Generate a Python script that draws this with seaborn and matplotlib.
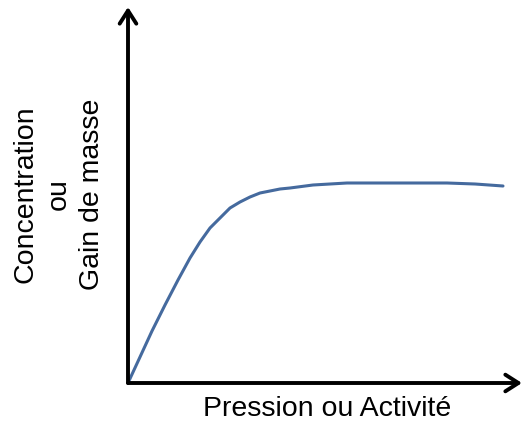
import matplotlib
matplotlib.use("Agg")
import matplotlib.pyplot as plt
import pandas as pd
import seaborn as sns

# curve (arbitrary units)
pression = [0, 12, 24, 37, 50, 62, 72, 82, 92, 102, 112, 122, 132, 142, 152, 162,
            185, 219, 269, 319, 347, 375]
masse = [0, 26, 52, 78, 103, 125, 141, 155, 165, 175, 181, 186, 190, 192, 194, 195,
         198, 200, 200, 200, 199, 197]
xlabel = "Pression ou Activité"
ylabel = "Concentration\nou\nGain de masse"

df = pd.DataFrame({"x": pression, "y": masse})

sns.set_style("white")
plt.rcParams["font.family"] = ["Liberation Sans", "DejaVu Sans"]

fig = plt.figure(figsize=(5.23, 4.23), dpi=100)
ax = fig.add_axes([128 / 523, 40 / 423, 394 / 523, 376 / 423])

sns.lineplot(data=df, x="x", y="y", sort=False, estimator=None,
             color="#456a9e", linewidth=2.2, ax=ax)

ax.set_xlim(0, 394)
ax.set_ylim(0, 376)
for s in ax.spines.values():
    s.set_visible(False)
ax.set_xticks([])
ax.set_yticks([])
ax.set_xlabel("")
ax.set_ylabel("")

arrow = dict(arrowstyle="->,head_length=0.47,head_width=0.3", lw=2.8,
             color="black", shrinkA=0, shrinkB=0, mutation_scale=20)
ax.annotate("", xy=(1, 0), xytext=(0, 0), xycoords="axes fraction",
            arrowprops=arrow, annotation_clip=False)
ax.annotate("", xy=(0, 1), xytext=(0, 0), xycoords="axes fraction",
            arrowprops=arrow, annotation_clip=False)

fig.text(327 / 523, 1 - 416 / 423, xlabel, ha="center", va="baseline",
         fontsize=20.5, color="black")
fig.text(59 / 523, 1 - 194 / 423, ylabel, ha="center", va="center", rotation=90,
         fontsize=20.5, linespacing=1.35, multialignment="center", color="black")

fig.savefig("out.png", dpi=100)
